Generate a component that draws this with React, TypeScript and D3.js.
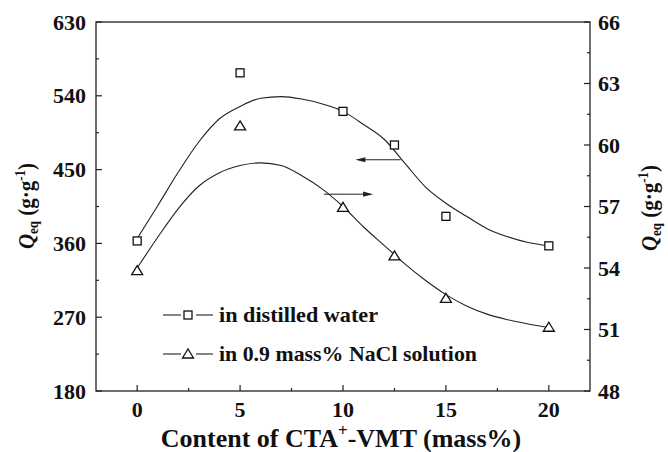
import React from "react";
import * as d3 from "d3";

// Measured swelling data
const contents = [0, 5, 10, 12.5, 15, 20];
const waterQeq = [363, 568, 521, 480, 393, 357];
const salineQeq = [53.87, 60.93, 56.96, 54.59, 52.52, 51.11];

// Smoothed trend curves
const fitContents = [0, 1, 2, 3, 4, 5, 6, 7, 8, 9, 10, 11, 12, 13, 14, 15, 16, 17, 18, 19, 20];
const waterFit = [366, 406, 447, 484, 512, 527, 537, 539, 536, 530, 521, 505, 487, 458, 429, 409, 393, 378, 368, 361, 357];
const salineFit = [54.0, 55.5, 56.9, 58.0, 58.65, 59.0, 59.13, 59.0, 58.5, 57.85, 57.0, 56.0, 55.1, 54.2, 53.4, 52.7, 52.15, 51.75, 51.48, 51.27, 51.1];

const xTicks = [0, 5, 10, 15, 20];
const xMinorTicks = [2.5, 7.5, 12.5, 17.5];
const leftTicks = [180, 270, 360, 450, 540, 630];
const leftMinorTicks = [225, 315, 405, 495, 585];
const rightTicks = [48, 51, 54, 57, 60, 63, 66];
const rightMinorTicks = [49.5, 52.5, 55.5, 58.5, 61.5, 64.5];

const legendLabels = ["in distilled water", "in 0.9 mass% NaCl solution"];

const W = 668;
const H = 452;
const L = 96;
const R = 590;
const T = 22;
const B = 391;
const FONT = "'Liberation Serif', 'Times New Roman', serif";

function YTitle({ x, y }: { x: number; y: number }) {
  return (
    <text
      transform={`translate(${x},${y}) scale(1.12,1) rotate(-90)`}
      textAnchor="middle"
      fontFamily={FONT}
      fontWeight={700}
      fontSize={21}
      fill="#111"
    >
      <tspan fontStyle="italic">Q</tspan>
      <tspan dy={4} fontSize={13}>eq</tspan>
      <tspan dy={-4}> (g·g</tspan>
      <tspan dy={-8} fontSize={13}>-1</tspan>
      <tspan dy={8}>)</tspan>
    </text>
  );
}

export default function App() {
  const x = d3.scaleLinear().domain([-2, 22]).range([L, R]);
  const yL = d3.scaleLinear().domain([180, 630]).range([B, T]);
  const yR = d3.scaleLinear().domain([48, 66]).range([B, T]);

  const waterLine = d3
    .line<number>()
    .x((_, i) => x(fitContents[i]))
    .y((d) => yL(d))
    .curve(d3.curveMonotoneX)(waterFit);
  const salineLine = d3
    .line<number>()
    .x((_, i) => x(fitContents[i]))
    .y((d) => yR(d))
    .curve(d3.curveMonotoneX)(salineFit);

  const sq = (cx: number, cy: number, key: any) => (
    <rect key={key} x={cx - 4} y={cy - 4} width={8} height={8} fill="#fff" stroke="#111" strokeWidth={1.3} />
  );
  const tri = (cx: number, cy: number, key: any) => (
    <path key={key} d={`M${cx},${cy - 5}L${cx + 5.5},${cy + 4}L${cx - 5.5},${cy + 4}Z`} fill="#fff" stroke="#111" strokeWidth={1.3} />
  );

  const arrow = (x1: number, x2: number, y: number) => {
    const dir = Math.sign(x2 - x1);
    return (
      <g>
        <line x1={x1} x2={x2 - dir * 8} y1={y} y2={y} stroke="#222" strokeWidth={1} />
        <path d={`M${x2},${y}L${x2 - dir * 10},${y - 2.6}L${x2 - dir * 10},${y + 2.6}Z`} fill="#222" />
      </g>
    );
  };

  const tickFont = { fontFamily: FONT, fontWeight: 700, fontSize: 22, fill: "#111" };
  const legendFont = { fontFamily: FONT, fontWeight: 700, fontSize: 21, fill: "#111" };

  return (
    <svg width={W} height={H} style={{ position: "absolute", left: 0, top: 0, background: "#fff" }}>
      <rect x={0} y={0} width={W} height={H} fill="#fff" />
      {/* frame: left, bottom, right axes and top border */}
      <rect x={L} y={T} width={R - L} height={B - T} fill="none" stroke="#222" strokeWidth={1.3} />

      {/* x ticks */}
      {xTicks.map((t) => (
        <g key={"xt" + t}>
          <line x1={x(t)} x2={x(t)} y1={B} y2={B - 6} stroke="#222" strokeWidth={1.2} />
          <text x={x(t)} y={417} textAnchor="middle" {...tickFont}>{t}</text>
        </g>
      ))}
      {xMinorTicks.map((t) => (
        <line key={"xm" + t} x1={x(t)} x2={x(t)} y1={B} y2={B - 3} stroke="#222" strokeWidth={1.2} />
      ))}

      {/* left ticks */}
      {leftTicks.map((t) => (
        <g key={"lt" + t}>
          <line x1={L} x2={L + 6} y1={yL(t)} y2={yL(t)} stroke="#222" strokeWidth={1.2} />
          <text x={86} y={yL(t) + 7.5} textAnchor="end" {...tickFont}>{t}</text>
        </g>
      ))}
      {leftMinorTicks.map((t) => (
        <line key={"lm" + t} x1={L} x2={L + 3} y1={yL(t)} y2={yL(t)} stroke="#222" strokeWidth={1.2} />
      ))}

      {/* right ticks */}
      {rightTicks.map((t) => (
        <g key={"rt" + t}>
          <line x1={R} x2={R - 6} y1={yR(t)} y2={yR(t)} stroke="#222" strokeWidth={1.2} />
          <text x={598} y={yR(t) + 7.5} textAnchor="start" {...tickFont}>{t}</text>
        </g>
      ))}
      {rightMinorTicks.map((t) => (
        <line key={"rm" + t} x1={R} x2={R - 3} y1={yR(t)} y2={yR(t)} stroke="#222" strokeWidth={1.2} />
      ))}

      {/* trend curves */}
      <path d={waterLine || ""} fill="none" stroke="#222" strokeWidth={1.1} />
      <path d={salineLine || ""} fill="none" stroke="#222" strokeWidth={1.1} />

      {/* markers */}
      {contents.map((c, i) => sq(x(c), yL(waterQeq[i]), "s" + i))}
      {contents.map((c, i) => tri(x(c), yR(salineQeq[i]), "t" + i))}

      {/* axis pointers */}
      {arrow(x(12.8), x(10.6), yL(462))}
      {arrow(x(9.07), x(11.46), yR(57.6))}

      {/* legend */}
      <g>
        <line x1={163} x2={181} y1={315} y2={315} stroke="#222" strokeWidth={1.1} />
        <line x1={196} x2={213} y1={315} y2={315} stroke="#222" strokeWidth={1.1} />
        {sq(188, 315, "ls")}
        <text x={219} y={322} textLength={159} lengthAdjust="spacingAndGlyphs" {...legendFont}>{legendLabels[0]}</text>
        <line x1={163} x2={181} y1={354} y2={354} stroke="#222" strokeWidth={1.1} />
        <line x1={196} x2={213} y1={354} y2={354} stroke="#222" strokeWidth={1.1} />
        {tri(188, 354, "lt")}
        <text x={219} y={361} textLength={258} lengthAdjust="spacingAndGlyphs" {...legendFont}>{legendLabels[1]}</text>
      </g>

      {/* x axis title */}
      <text x={341} y={447} textAnchor="middle" fontFamily={FONT} fontWeight={700} fontSize={26} fill="#111">
        Content of CTA<tspan dy={-11} fontSize={17}>+</tspan><tspan dy={11}>-VMT (mass%)</tspan>
      </text>

      {/* y axis titles */}
      <YTitle x={34} y={206} />
      <YTitle x={657} y={208} />
    </svg>
  );
}
